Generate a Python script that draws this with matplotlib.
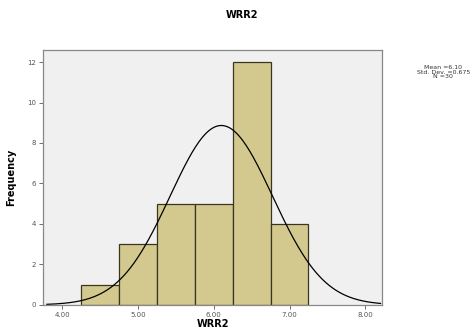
import numpy as np
from matplotlib import pyplot as plt
from matplotlib.ticker import StrMethodFormatter

bin_edges = [4.25, 4.75, 5.25, 5.75, 6.25, 6.75, 7.25]
counts = [1, 3, 5, 5, 12, 4]
mean = 6.10
std_dev = 0.675
n_cases = 30
x_ticks = [4.0, 5.0, 6.0, 7.0, 8.0]
y_ticks = [0, 2, 4, 6, 8, 10, 12]

fig = plt.figure(figsize=(4.74, 3.35), dpi=100)
ax = fig.add_axes([0.091, 0.09, 0.715, 0.761])
ax.set_facecolor('#f0f0f0')

widths = np.diff(bin_edges)
ax.bar(bin_edges[:-1], counts, width=widths, align='edge',
       color='#d3c98f', edgecolor='#3a3520', linewidth=0.9)

# normal curve scaled to counts
bw = widths[0]
xs = np.linspace(3.8, 8.2, 300)
ys = n_cases * bw / (std_dev * np.sqrt(2 * np.pi)) * np.exp(-0.5 * ((xs - mean) / std_dev) ** 2)
ax.plot(xs, ys, color='black', linewidth=0.9)

ax.set_xlim(3.75, 8.22)
ax.set_ylim(0, 12.6)
ax.set_xticks(x_ticks)
ax.set_yticks(y_ticks)
ax.xaxis.set_major_formatter(StrMethodFormatter("{x:.2f}"))
ax.tick_params(labelsize=5, colors='#555555', length=3, width=0.6, pad=2)
for s in ax.spines.values():
    s.set_color('#888888')
    s.set_linewidth(0.9)

ax.set_xlabel("WRR2", fontsize=7, fontweight='bold', labelpad=1)
ax.set_ylabel("Frequency", fontsize=7, fontweight='bold', labelpad=8)
fig.text(0.51, 0.955, "WRR2", ha='center', va='center', fontsize=7, fontweight='bold')

fig.text(0.935, 0.785, "Mean =%.2f\nStd. Dev. =%.3f\nN =%d" % (mean, std_dev, n_cases),
         ha='center', va='center', fontsize=4.5, color='#333333', linespacing=0.9)

fig.savefig('out.png', dpi=100)
